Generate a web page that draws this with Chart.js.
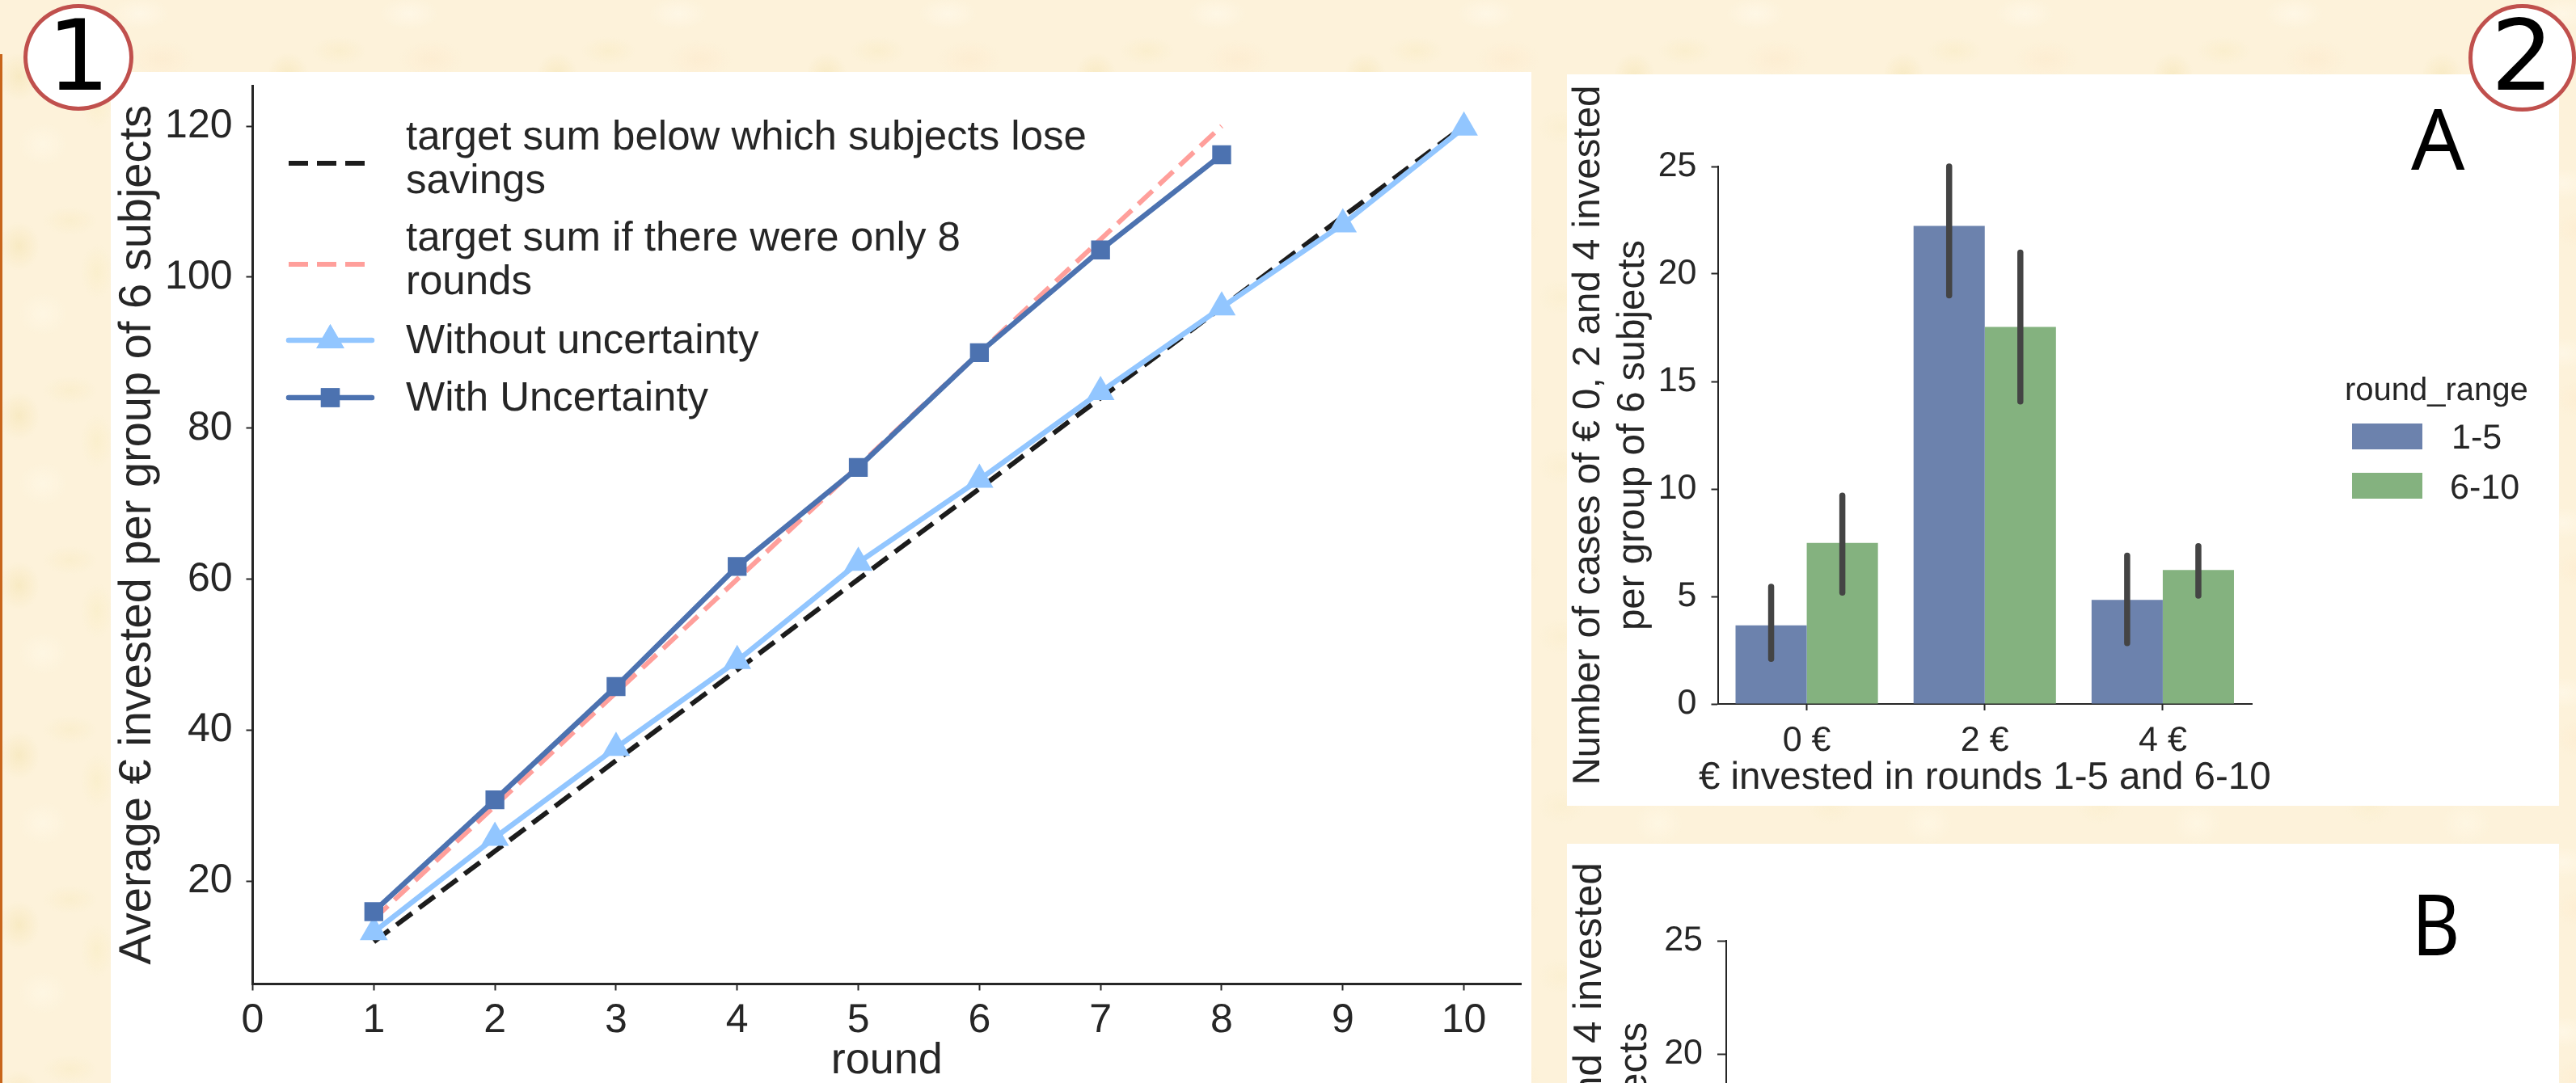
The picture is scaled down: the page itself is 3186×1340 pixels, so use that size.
<!DOCTYPE html>
<html>
<head>
<meta charset="utf-8">
<title>Average invested per round</title>
<script src="https://cdn.jsdelivr.net/npm/chart.js@4/dist/chart.umd.min.js"></script>
<style>
  html,body{margin:0;padding:0;width:3186px;height:1340px;overflow:hidden}
  body{position:relative;background-color:#fdf2da;
    background-image:
      radial-gradient(ellipse 26px 30px at 7% 45%,rgba(247,232,190,.8),transparent 100%),
      radial-gradient(ellipse 20px 34px at 36% 60%,rgba(250,238,200,.7),transparent 100%),
      radial-gradient(ellipse 34px 18px at 26% 30%,rgba(249,236,198,.6),transparent 100%),
      radial-gradient(ellipse 40px 24px at 60% 35%,rgba(253,236,208,.8),transparent 100%),
      radial-gradient(ellipse 30px 22px at 80% 75%,rgba(250,238,205,.6),transparent 100%),
      radial-gradient(ellipse 36px 20px at 52% 8%,rgba(255,248,232,.8),transparent 100%),
      radial-gradient(ellipse 30px 26px at 16% 85%,rgba(255,248,230,.7),transparent 100%);
    background-size:333px 210px;}
  .panel{position:absolute;background:#fff;overflow:hidden}
  .panel canvas{display:block}
  .strip{position:absolute;left:0;top:67px;width:3px;height:1273px;background:#c8651b}
  .badge{position:absolute;box-sizing:border-box;background:#fff;border:5px solid #c0504d;border-radius:50%;
    font:122px/118px "DejaVu Sans",sans-serif;color:#000;text-align:center}
  .letter{position:absolute;font:104px/104px "Noto Sans",sans-serif;color:#000}
</style>
</head>
<body>
<div class="strip"></div>
<div class="panel" style="left:137px;top:89px;width:1757px;height:1251px"><canvas id="lineChart" width="1757" height="1251"></canvas></div>
<div class="panel" style="left:1938px;top:92px;width:1227px;height:905px"><canvas id="barA" width="1227" height="905"></canvas></div>
<div class="panel" style="left:1938px;top:1044px;width:1227px;height:296px"><canvas id="barB" width="1227" height="920"></canvas></div>
<div class="badge" style="left:29px;top:5px;width:136px;height:132px">1</div>
<div class="badge" style="left:3053px;top:5px;width:133px;height:133px">2</div>
<div class="letter" style="left:2982px;top:118px">A</div>
<div class="letter" style="left:2983px;top:1090px;transform:scaleX(.88);transform-origin:left top">B</div>

<script>
// line chart values
const rounds = [1,2,3,4,5,6,7,8,9,10];
const targetSum = [12,24,36,48,60,72,84,96,108,120];
const targetSum8 = [15,30,45,60,75,90,105,120];
const withoutUnc = [13.3,25.8,37.7,49.2,62.2,73.2,84.8,96,107,119.8];
const withUnc = [16,30.8,45.8,61.7,74.8,90,103.6,116.2];
const lineXTicks = [0,1,2,3,4,5,6,7,8,9,10];
const lineYTicks = [20,40,60,80,100,120];
const lineLegend = [['target sum below which subjects lose','savings'],['target sum if there were only 8','rounds'],['Without uncertainty'],['With Uncertainty']];

// bar chart values
const euroCats = ['0 €','2 €','4 €'];
const range15 = [3.66,22.24,4.84];
const range15Low = [2.1,19,2.83];
const range15High = [5.45,25,6.9];
const range610 = [7.49,17.54,6.23];
const range610Low = [5.18,14.07,5.04];
const range610High = [9.69,21,7.34];
const barYTicks = [0,5,10,15,20,25];
const barYTitle = ['Number of cases of € 0, 2 and 4 invested','per group of 6 subjects'];
const barXTitle = '€ invested in rounds 1-5 and 6-10';
const legendTitle = 'round_range';

const FONT = '"Liberation Sans", Arial, sans-serif';
const INK = '#262626';
Chart.defaults.font.family = FONT;
Chart.defaults.color = INK;
Chart.defaults.animation = false;
Chart.defaults.devicePixelRatio = 1;
Chart.defaults.responsive = false;
Chart.register({id:'smoothText',beforeDraw(c){ c.ctx.textRendering = 'geometricPrecision'; }});

const xy = (xs,ys)=> ys.map((y,i)=>({x:xs[i],y}));
const setTicks = vals => axis => { axis.ticks = vals.map(v=>({value:v})); };
// fixed axis box, no extra room for half labels
const fixBox = (prop,size) => s => { s[prop]=size; s.paddingTop=0; s.paddingBottom=0; s.paddingLeft=0; s.paddingRight=0; };

// legend with wrapped labels, takes line styles from the datasets
const lineLegendPlugin = {
  id:'lineLegendPlugin',
  afterDraw(chart){
    const ctx = chart.ctx, x0 = 220, x1 = 323, tx = 365;
    const handleY = [113,238,332,403], baseY = [[96,150],[221,275],[348],[419]];
    lineLegend.forEach((lines,i)=>{
      const ds = chart.data.datasets[i], y = handleY[i];
      ctx.save();
      ctx.strokeStyle = ds.borderColor; ctx.lineWidth = ds.borderWidth;
      ctx.lineCap = ds.borderDash ? 'butt' : 'round';
      ctx.setLineDash(ds.borderDash || []);
      ctx.beginPath(); ctx.moveTo(x0,y); ctx.lineTo(x1,y); ctx.stroke();
      ctx.setLineDash([]);
      if(ds.pointRadius){
        ctx.fillStyle = ds.backgroundColor;
        Chart.helpers.drawPoint(ctx,{pointStyle:ds.pointStyle,radius:ds.pointRadius,borderWidth:0},(x0+x1)/2,y);
        ctx.fill();
      }
      ctx.restore();
      ctx.save();
      ctx.fillStyle = INK; ctx.font = '51px '+FONT;
      lines.forEach((t,k)=> ctx.fillText(t,tx,baseY[i][k]));
      ctx.restore();
    });
  }
};

const errorBars = {
  id:'errorBars',
  afterDatasetsDraw(chart){
    const ctx = chart.ctx, y = chart.scales.y;
    chart.data.datasets.forEach((ds,i)=>{
      chart.getDatasetMeta(i).data.forEach((bar,k)=>{
        ctx.save();
        ctx.strokeStyle = '#444444'; ctx.lineWidth = 7.5; ctx.lineCap = 'round';
        ctx.beginPath();
        ctx.moveTo(bar.x,y.getPixelForValue(ds.errLow[k]));
        ctx.lineTo(bar.x,y.getPixelForValue(ds.errHigh[k]));
        ctx.stroke(); ctx.restore();
      });
    });
  }
};

// legend and x title, the built-in title gets squeezed to the axis width
const barLegend = {
  id:'barLegend',
  afterDraw(chart){
    const ctx = chart.ctx, area = chart.chartArea;
    ctx.save();
    ctx.fillStyle = INK;
    ctx.font = '47.5px '+FONT; ctx.textAlign = 'center';
    ctx.fillText(barXTitle,(area.left+area.right)/2,884);
    ctx.textAlign = 'left'; ctx.font = '40px '+FONT;
    ctx.fillText(legendTitle,962,403);
    const swatchY = [432,493], textX = [1094,1092], baseY = [463,525];
    ctx.font = '43px '+FONT;
    chart.data.datasets.forEach((ds,i)=>{
      ctx.fillStyle = ds.backgroundColor;
      ctx.fillRect(971,swatchY[i],87,32);
      ctx.fillStyle = INK;
      ctx.fillText(ds.label,textX[i],baseY[i]);
    });
    ctx.restore();
  }
};

new Chart(document.getElementById('lineChart'),{
  type:'line',
  data:{datasets:[
    {label:lineLegend[0].join(' '),data:xy(rounds,targetSum),borderColor:'#1c1c1c',borderWidth:6,borderDash:[24,11],pointRadius:0,order:4},
    {label:lineLegend[1].join(' '),data:xy(rounds,targetSum8),borderColor:'#ff9f9b',borderWidth:6,borderDash:[24,11],pointRadius:0,order:3},
    {label:lineLegend[2][0],data:xy(rounds,withoutUnc),borderColor:'#92c6ff',backgroundColor:'#92c6ff',borderWidth:6.5,pointStyle:'triangle',pointRadius:20,pointBorderWidth:0,order:2},
    {label:lineLegend[3][0],data:xy(rounds,withUnc),borderColor:'#4c72b0',backgroundColor:'#4c72b0',borderWidth:6.5,pointStyle:'rect',pointRadius:16.5,pointBorderWidth:0,order:1}
  ]},
  options:{
    layout:{autoPadding:false,padding:{top:17,right:13,left:0,bottom:0}},
    plugins:{legend:{display:false},tooltip:{enabled:false}},
    scales:{
      x:{type:'linear',min:0,max:10.47,afterBuildTicks:setTicks(lineXTicks),afterFit:fixBox('height',122.5),
        grid:{drawOnChartArea:false,tickLength:8,tickColor:INK,tickWidth:2},border:{color:INK,width:3},
        ticks:{font:{size:50},color:INK,padding:8,maxRotation:0,autoSkip:false},
        title:{display:true,text:'round',font:{size:54},color:INK,padding:{top:0,bottom:-6}}},
      y:{min:6.42,max:125.35,afterBuildTicks:setTicks(lineYTicks),afterFit:fixBox('width',175.5),
        grid:{drawOnChartArea:false,tickLength:8,tickColor:INK,tickWidth:2},border:{color:INK,width:3},
        ticks:{font:{size:50},color:INK,padding:17,autoSkip:false},
        title:{display:true,text:'Average € invested per group of 6 subjects',font:{size:56},color:INK,padding:{top:0,bottom:0}}}
    }
  },
  plugins:[lineLegendPlugin]
});

new Chart(document.getElementById('barA'),{
  type:'bar',
  data:{labels:euroCats,datasets:[
    {label:'1-5',data:range15,errLow:range15Low,errHigh:range15High,backgroundColor:'#6c82ad'},
    {label:'6-10',data:range610,errLow:range610Low,errHigh:range610High,backgroundColor:'#84b27f'}
  ]},
  options:{
    layout:{padding:{top:114,right:380,left:0,bottom:0}},
    datasets:{bar:{barPercentage:1,categoryPercentage:.8}},
    plugins:{legend:{display:false},tooltip:{enabled:false}},
    scales:{
      x:{afterFit:fixBox('height',126),
        grid:{drawOnChartArea:false,tickLength:8,tickColor:INK,tickWidth:2,offset:false},border:{color:INK,width:2},
        ticks:{font:{size:43},color:INK,padding:12,maxRotation:0}},
      y:{min:0,max:25,afterBuildTicks:setTicks(barYTicks),afterFit:fixBox('width',186.5),
        grid:{drawOnChartArea:false,tickLength:8,tickColor:INK,tickWidth:2},border:{color:INK,width:2},
        ticks:{font:{size:43},color:INK,padding:18},
        title:{display:true,text:barYTitle,font:{size:47.5,lineHeight:1.15},color:INK,padding:{top:0,bottom:0}}}
    }
  },
  plugins:[errorBars,barLegend]
});

// panel B is cut off by the page, only its y axis shows
new Chart(document.getElementById('barB'),{
  type:'bar',
  data:{labels:euroCats,datasets:[]},
  options:{
    layout:{padding:{top:120,right:380,left:0,bottom:100}},
    plugins:{legend:{display:false},tooltip:{enabled:false}},
    scales:{
      x:{display:false},
      y:{min:0,max:25,afterBuildTicks:setTicks(barYTicks),afterFit:fixBox('width',197),
        grid:{drawOnChartArea:false,tickLength:11,tickColor:INK,tickWidth:2},border:{color:INK,width:2},
        ticks:{font:{size:43},color:INK,padding:18},
        title:{display:true,text:barYTitle,font:{size:49,lineHeight:1.15},color:INK,padding:{top:0,bottom:0}}}
    }
  }
});
</script>
</body>
</html>
